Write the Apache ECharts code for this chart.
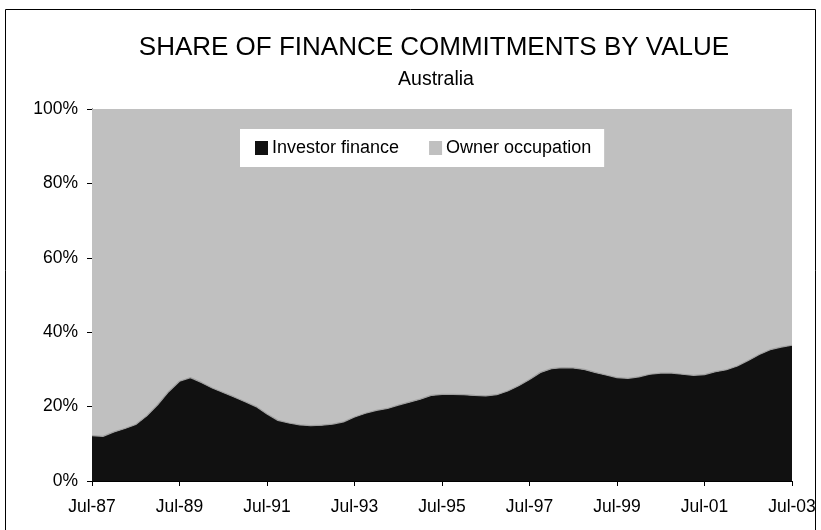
<!DOCTYPE html>
<html>
<head>
<meta charset="utf-8">
<script src="https://cdn.jsdelivr.net/npm/echarts@6/dist/echarts.min.js"></script>
<style>
  html, body { margin: 0; padding: 0; background: #fff; }
  #chart { width: 821px; height: 530px; }
</style>
</head>
<body>
<div id="chart"></div>
<script>
// quarterly, Jul-87 .. Jul-03
var quarters = [
  'Jul-87', 'Oct-87', 'Jan-88', 'Apr-88', 'Jul-88', 'Oct-88', 'Jan-89', 'Apr-89',
  'Jul-89', 'Oct-89', 'Jan-90', 'Apr-90', 'Jul-90', 'Oct-90', 'Jan-91', 'Apr-91',
  'Jul-91', 'Oct-91', 'Jan-92', 'Apr-92', 'Jul-92', 'Oct-92', 'Jan-93', 'Apr-93',
  'Jul-93', 'Oct-93', 'Jan-94', 'Apr-94', 'Jul-94', 'Oct-94', 'Jan-95', 'Apr-95',
  'Jul-95', 'Oct-95', 'Jan-96', 'Apr-96', 'Jul-96', 'Oct-96', 'Jan-97', 'Apr-97',
  'Jul-97', 'Oct-97', 'Jan-98', 'Apr-98', 'Jul-98', 'Oct-98', 'Jan-99', 'Apr-99',
  'Jul-99', 'Oct-99', 'Jan-00', 'Apr-00', 'Jul-00', 'Oct-00', 'Jan-01', 'Apr-01',
  'Jul-01', 'Oct-01', 'Jan-02', 'Apr-02', 'Jul-02', 'Oct-02', 'Jan-03', 'Apr-03',
  'Jul-03'
]

// share of commitments, per cent
var investorFinance = [
  12.2, 12.0, 13.2, 14.1, 15.2, 17.5, 20.5, 24.0,
  26.8, 27.8, 26.5, 25.0, 23.8, 22.6, 21.3, 20.0,
  18.0, 16.3, 15.6, 15.1, 14.9, 15.0, 15.3, 15.9,
  17.2, 18.2, 19.0, 19.5, 20.4, 21.2, 22.0, 23.0,
  23.3, 23.3, 23.2, 23.0, 22.9, 23.2, 24.2, 25.6,
  27.3, 29.2, 30.2, 30.5, 30.4, 30.0, 29.2, 28.5,
  27.8, 27.6, 28.0, 28.7, 29.0, 29.0, 28.7, 28.4,
  28.6, 29.4, 29.9, 30.9, 32.4, 34.0, 35.3, 36.0,
  36.5
]
var ownerOccupation = [
  87.8, 88.0, 86.8, 85.9, 84.8, 82.5, 79.5, 76.0,
  73.2, 72.2, 73.5, 75.0, 76.2, 77.4, 78.7, 80.0,
  82.0, 83.7, 84.4, 84.9, 85.1, 85.0, 84.7, 84.1,
  82.8, 81.8, 81.0, 80.5, 79.6, 78.8, 78.0, 77.0,
  76.7, 76.7, 76.8, 77.0, 77.1, 76.8, 75.8, 74.4,
  72.7, 70.8, 69.8, 69.5, 69.6, 70.0, 70.8, 71.5,
  72.2, 72.4, 72.0, 71.3, 71.0, 71.0, 71.3, 71.6,
  71.4, 70.6, 70.1, 69.1, 67.6, 66.0, 64.7, 64.0,
  63.5
]

var yTicks = [0, 20, 40, 60, 80, 100]

var chart = echarts.init(document.getElementById('chart'))
var font = 'Liberation Sans, Arial, sans-serif'

chart.setOption({
  animation: false,
  textStyle: { fontFamily: font },
  title: [
    {
      text: 'SHARE OF FINANCE COMMITMENTS BY VALUE',
      left: 429,
      top: 30,
      textAlign: 'center',
      textStyle: { fontFamily: font, fontSize: 26, fontWeight: 'normal', color: '#000' }
    },
    {
      text: 'Australia',
      left: 431,
      top: 65,
      textAlign: 'center',
      textStyle: { fontFamily: font, fontSize: 19.5, fontWeight: 'normal', color: '#000' }
    }
  ],
  graphic: [
    {
      // outer chart frame
      type: 'rect',
      shape: { x: 5.5, y: 9.5, width: 810, height: 530 },
      style: { fill: 'none', stroke: '#000', lineWidth: 1 },
      silent: true
    }
  ],
  legend: {
    data: ['Investor finance', 'Owner occupation'],
    left: 240,
    top: 129,
    backgroundColor: '#fff',
    padding: [10, 13, 10, 15],
    itemWidth: 13,
    itemHeight: 14,
    itemGap: 30,
    icon: 'rect',
    textStyle: { fontFamily: font, fontSize: 18, color: '#000', padding: [0, 0, 0, -1] }
  },
  grid: {
    left: 92,
    right: 29,
    top: 109,
    bottom: 49
  },
  xAxis: {
    type: 'category',
    data: quarters,
    boundaryGap: false,
    axisLine: { lineStyle: { color: '#000', width: 1 } },
    axisTick: { interval: 7, length: 5, lineStyle: { color: '#000' } },
    axisLabel: {
      interval: 7,
      color: '#000',
      fontSize: 17.5,
      margin: 17,
      fontFamily: font
    },
    splitLine: { show: false }
  },
  yAxis: {
    type: 'value',
    min: yTicks[0],
    max: yTicks[yTicks.length - 1],
    interval: 20,
    axisLine: { show: true, lineStyle: { color: '#000', width: 1 } },
    axisTick: { show: true, length: 5, lineStyle: { color: '#000' } },
    axisLabel: {
      formatter: '{value}%',
      color: '#000',
      fontSize: 17.5,
      margin: 14,
      fontFamily: font
    },
    splitLine: { show: false }
  },
  series: [
    {
      name: 'Investor finance',
      type: 'line',
      stack: 'share',
      data: investorFinance,
      symbol: 'none',
      itemStyle: { color: '#111111' },
      lineStyle: { color: '#a0a0a0', width: 1.2 },
      areaStyle: { color: '#111111', opacity: 1 }
    },
    {
      name: 'Owner occupation',
      type: 'line',
      stack: 'share',
      data: ownerOccupation,
      symbol: 'none',
      itemStyle: { color: '#c0c0c0' },
      lineStyle: { width: 0 },
      areaStyle: { color: '#c0c0c0', opacity: 1 }
    }
  ]
})
</script>
</body>
</html>
